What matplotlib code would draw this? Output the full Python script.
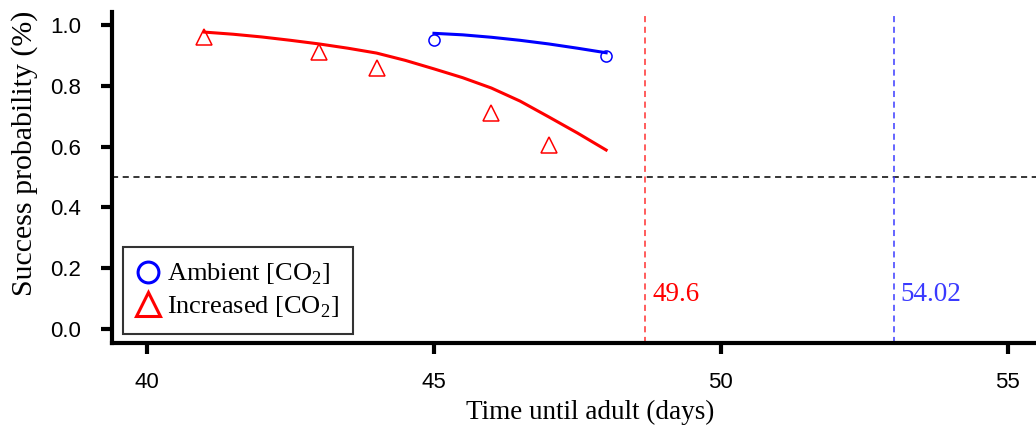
import numpy as np
import matplotlib.pyplot as plt
import matplotlib

matplotlib.rcParams["font.family"] = ["Liberation Sans", "DejaVu Sans"]
matplotlib.rcParams["mathtext.fontset"] = "custom"
matplotlib.rcParams["mathtext.rm"] = "Liberation Serif"

# observed points
amb_x = [45, 48]
amb_y = [0.95, 0.90]
inc_x = [41, 43, 44, 46, 47]
inc_y = [0.96, 0.91, 0.86, 0.71, 0.605]

# fitted curves
amb_fit_x = [45, 45.5, 46, 46.5, 47, 47.5, 48]
amb_fit_y = [0.973, 0.968, 0.960, 0.950, 0.938, 0.924, 0.909]
inc_fit_x = [41, 41.5, 42, 42.5, 43, 43.5, 44, 44.5, 45, 45.5, 46, 46.5, 47, 47.5, 48]
inc_fit_y = [0.977, 0.970, 0.961, 0.950, 0.938, 0.924, 0.908, 0.884, 0.856, 0.827, 0.793, 0.750, 0.698, 0.645, 0.589]

# thresholds
inc_cut, inc_label = 48.68, "49.6"
amb_cut, amb_label = 53.01, "54.02"

fig = plt.figure(figsize=(10.36, 4.30), dpi=100)
ax = fig.add_axes([0.1081, 0.2023, 0.8919, 0.7697])

ax.axhline(0.5, color="black", linestyle=(0, (4, 3)), linewidth=1.1, zorder=1)
ax.axvline(inc_cut, color="#ff3030", linestyle=(0, (4, 3)), linewidth=1.1, zorder=1)
ax.axvline(amb_cut, color="#3a3aff", linestyle=(0, (4, 3)), linewidth=1.1, zorder=1)

ax.plot(amb_fit_x, amb_fit_y, color="#0000ff", linewidth=2.2)
ax.plot(inc_fit_x, inc_fit_y, color="#ff0000", linewidth=2.2)
ax.plot(amb_x, amb_y, linestyle="none", marker="o", markersize=8,
        markerfacecolor="none", markeredgecolor="#0000ff", markeredgewidth=1.1,
        label="Ambient [CO$_2$]")
ax.plot(inc_x, inc_y, linestyle="none", marker="^", markersize=12,
        markerfacecolor="none", markeredgecolor="#ff0000", markeredgewidth=1.1,
        label="Increased [CO$_2$]")

ax.text(inc_cut + 0.12, 0.115, inc_label, color="#ff0000", fontsize=19.5,
        family="Liberation Serif", va="center")
ax.text(amb_cut + 0.12, 0.115, amb_label, color="#3a3aff", fontsize=19.5,
        family="Liberation Serif", va="center")

ax.set_xlim(39.39, 55.49)
ax.set_ylim(-0.046, 1.043)
ax.set_xticks([40, 45, 50, 55])
ax.set_yticks([0.0, 0.2, 0.4, 0.6, 0.8, 1.0])
ax.set_yticklabels(["0.0", "0.2", "0.4", "0.6", "0.8", "1.0"])

for s in ["top", "right"]:
    ax.spines[s].set_visible(False)
for s in ["left", "bottom"]:
    ax.spines[s].set_linewidth(3)
ax.tick_params(axis="both", width=3, length=8, labelsize=16, colors="black")
ax.tick_params(axis="y", pad=14)
ax.tick_params(axis="x", pad=13)

ax.set_xlabel("Time until adult (days)", fontsize=19.5, family="Liberation Serif")
ax.set_ylabel("Success probability (%)", fontsize=21.5, family="Liberation Serif")
ax.xaxis.set_label_coords(0.518, -0.172)
ax.yaxis.set_label_coords(-0.080, 0.574)

leg = ax.legend(loc="lower left", bbox_to_anchor=(0.012, 0.027), borderaxespad=0,
                frameon=True, fancybox=False,
                prop={"family": "Liberation Serif", "size": 19},
                handletextpad=0.3, handlelength=0.8, borderpad=0.55, labelspacing=0.25)
leg.get_frame().set_edgecolor("black")
leg.get_frame().set_linewidth(1.5)
leg.legend_handles[0].set_markersize(15)
leg.legend_handles[0].set_markeredgewidth(2.2)
leg.legend_handles[1].set_markersize(17)
leg.legend_handles[1].set_markeredgewidth(2.2)

fig.savefig("out.png", dpi=100)
